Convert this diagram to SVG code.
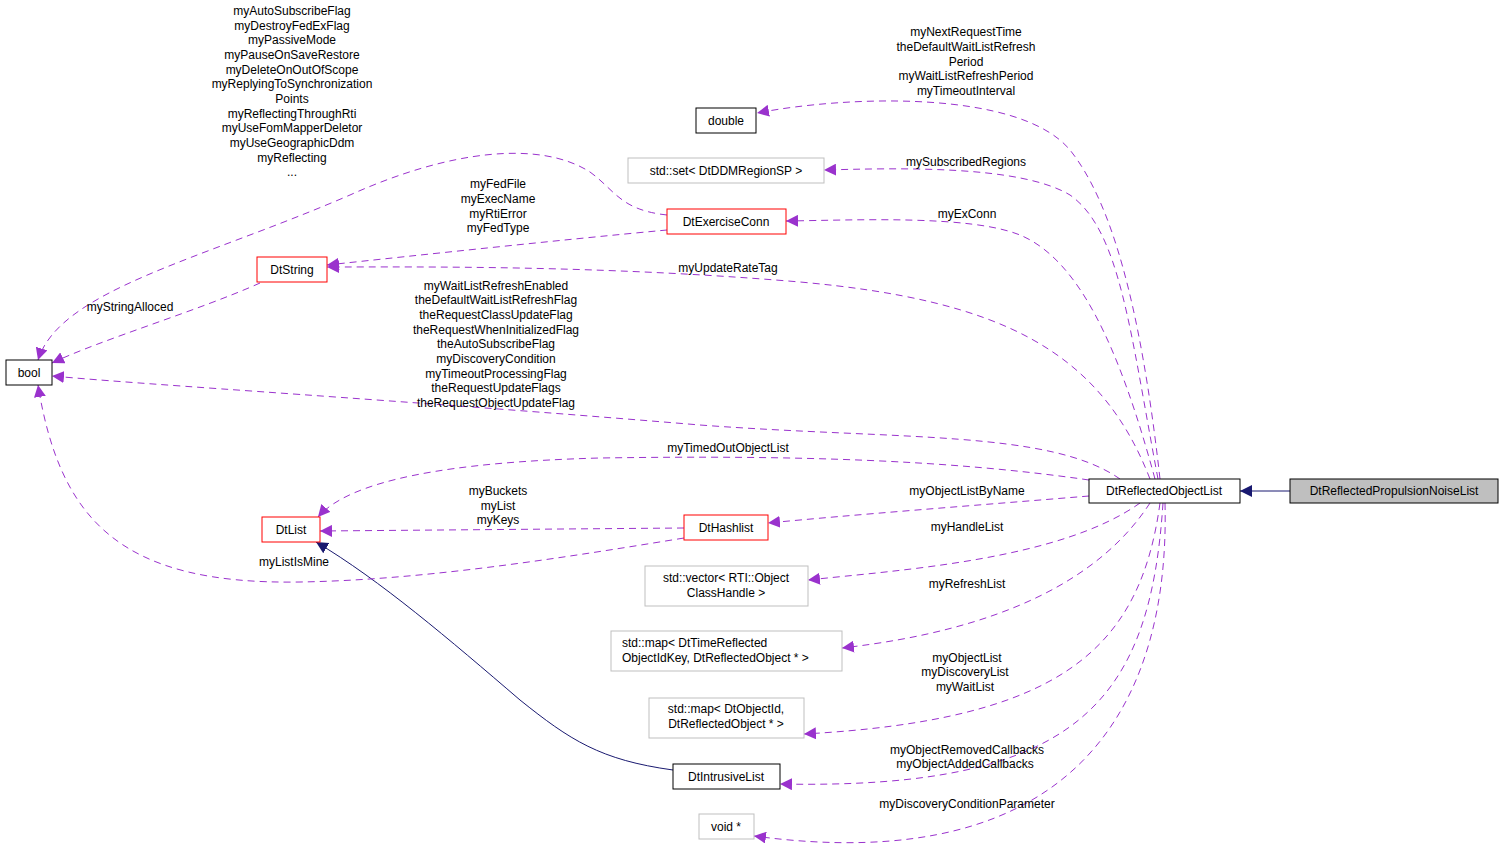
<svg xmlns="http://www.w3.org/2000/svg" width="1504" height="863" viewBox="0 0 1504 863">
<defs>
<style>
text{font-family:"Liberation Sans",Arial,sans-serif;font-size:12px;fill:#000;text-anchor:middle}
.n{fill:#fff;stroke:#000;stroke-width:1}
.r{fill:#fff;stroke:#ff0000;stroke-width:1}
.g{fill:#fff;stroke:#bfbfbf;stroke-width:1}
.d{fill:none;stroke:#9a32cd;stroke-width:1;stroke-dasharray:7,5;marker-end:url(#ap)}
.s{fill:none;stroke:#191970;stroke-width:1;marker-end:url(#an)}
</style>
<marker id="ap" viewBox="0 0 10 10" refX="10" refY="5" markerWidth="12" markerHeight="12" markerUnits="userSpaceOnUse" orient="auto"><path d="M0,0L10,5L0,10z" fill="#9a32cd"/></marker>
<marker id="an" viewBox="0 0 10 10" refX="10" refY="5" markerWidth="12" markerHeight="12" markerUnits="userSpaceOnUse" orient="auto"><path d="M0,0L10,5L0,10z" fill="#191970"/></marker>
</defs>
<rect width="1504" height="863" fill="#fff"/>
<g id="connectors">
<path class="s" d="M1290,491 L1240,491"/>
<path class="s" d="M673,770 C600,760 570,740 520,700 C450,640 380,580 316,542"/>
<path class="d" d="M1160,479 C1140,300 1110,200 1070,150 C1020,90 850,95 757,113"/>
<path class="d" d="M1158,479 C1130,330 1120,230 1070,195 C1020,165 900,168 824,170"/>
<path class="d" d="M1155,479 C1120,350 1080,260 1020,235 C970,215 860,220 786,221"/>
<path class="d" d="M1150,479 C1100,350 1000,300 800,282 C600,265 420,267 327,267"/>
<path class="d" d="M1120,479 C1050,430 900,440 700,425 C400,400 150,385 52,376"/>
<path class="d" d="M1089,480 C950,460 800,455 600,458 C450,462 350,480 318,517"/>
<path class="d" d="M1089,496 C980,505 850,515 768,523"/>
<path class="d" d="M1140,503 C1060,560 900,570 808,580"/>
<path class="d" d="M1150,503 C1100,580 1000,630 842,648"/>
<path class="d" d="M1160,503 C1140,650 1060,720 804,734"/>
<path class="d" d="M1163,503 C1150,700 1080,790 780,784"/>
<path class="d" d="M1165,503 C1170,700 1080,880 754,836"/>
<path class="d" d="M667,215 C620,210 615,190 590,172 C540,140 450,150 350,195 C200,260 60,290 38,360"/>
<path class="d" d="M667,230 C560,240 420,255 327,265"/>
<path class="d" d="M260,283 C200,310 100,340 52,363"/>
<path class="d" d="M684,528 L320,531"/>
<path class="d" d="M684,538 C550,560 420,580 300,582 C120,585 60,520 38,385"/>
</g>
<g id="labels">
<text x="966" y="36">myNextRequestTime</text>
<text x="966" y="51">theDefaultWaitListRefresh</text>
<text x="966" y="66">Period</text>
<text x="966" y="80">myWaitListRefreshPeriod</text>
<text x="966" y="95">myTimeoutInterval</text>
<text x="966" y="166">mySubscribedRegions</text>
<text x="967" y="218">myExConn</text>
<text x="728" y="272">myUpdateRateTag</text>
<text x="292" y="15">myAutoSubscribeFlag</text>
<text x="292" y="30">myDestroyFedExFlag</text>
<text x="292" y="44">myPassiveMode</text>
<text x="292" y="59">myPauseOnSaveRestore</text>
<text x="292" y="74">myDeleteOnOutOfScope</text>
<text x="292" y="88">myReplyingToSynchronization</text>
<text x="292" y="103">Points</text>
<text x="292" y="118">myReflectingThroughRti</text>
<text x="292" y="132">myUseFomMapperDeletor</text>
<text x="292" y="147">myUseGeographicDdm</text>
<text x="292" y="162">myReflecting</text>
<text x="292" y="176">...</text>
<text x="498" y="188">myFedFile</text>
<text x="498" y="203">myExecName</text>
<text x="498" y="218">myRtiError</text>
<text x="498" y="232">myFedType</text>
<text x="130" y="311">myStringAlloced</text>
<text x="496" y="290">myWaitListRefreshEnabled</text>
<text x="496" y="304">theDefaultWaitListRefreshFlag</text>
<text x="496" y="319">theRequestClassUpdateFlag</text>
<text x="496" y="334">theRequestWhenInitializedFlag</text>
<text x="496" y="348">theAutoSubscribeFlag</text>
<text x="496" y="363">myDiscoveryCondition</text>
<text x="496" y="378">myTimeoutProcessingFlag</text>
<text x="496" y="392">theRequestUpdateFlags</text>
<text x="496" y="407">theRequestObjectUpdateFlag</text>
<text x="728" y="452">myTimedOutObjectList</text>
<text x="498" y="495">myBuckets</text>
<text x="498" y="510">myList</text>
<text x="498" y="524">myKeys</text>
<text x="294" y="566">myListIsMine</text>
<text x="967" y="495">myObjectListByName</text>
<text x="967" y="531">myHandleList</text>
<text x="967" y="588">myRefreshList</text>
<text x="967" y="662">myObjectList</text>
<text x="965" y="676">myDiscoveryList</text>
<text x="965" y="691">myWaitList</text>
<text x="967" y="754">myObjectRemovedCallbacks</text>
<text x="965" y="768">myObjectAddedCallbacks</text>
<text x="967" y="808">myDiscoveryConditionParameter</text>
</g>
<g id="n_pnl"><rect x="1290" y="479" width="208" height="24" fill="#bfbfbf" stroke="#000"/><text x="1394" y="495">DtReflectedPropulsionNoiseList</text></g>
<g id="n_rol"><rect class="n" x="1089" y="479" width="151" height="24"/><text x="1164" y="495">DtReflectedObjectList</text></g>
<g id="n_double"><rect class="n" x="696" y="108" width="60" height="25"/><text x="726" y="125">double</text></g>
<g id="n_set"><rect class="g" x="628" y="158" width="196" height="25"/><text x="726" y="175">std::set&lt; DtDDMRegionSP &gt;</text></g>
<g id="n_exconn"><rect class="r" x="667" y="209" width="119" height="25"/><text x="726" y="226">DtExerciseConn</text></g>
<g id="n_dtstring"><rect class="r" x="257" y="257" width="70" height="25"/><text x="292" y="274">DtString</text></g>
<g id="n_bool"><rect class="n" x="6" y="360" width="46" height="25"/><text x="29" y="377">bool</text></g>
<g id="n_dtlist"><rect class="r" x="262" y="517" width="58" height="25"/><text x="291" y="534">DtList</text></g>
<g id="n_hashlist"><rect class="r" x="684" y="515" width="84" height="25"/><text x="726" y="532">DtHashlist</text></g>
<g id="n_vector"><rect class="g" x="645" y="566" width="163" height="40"/><text x="726" y="582">std::vector&lt; RTI::Object</text><text x="726" y="597">ClassHandle &gt;</text></g>
<g id="n_map1"><rect class="g" x="611" y="631" width="231" height="40"/><text x="622" y="647" style="text-anchor:start">std::map&lt; DtTimeReflected</text><text x="622" y="662" style="text-anchor:start">ObjectIdKey, DtReflectedObject * &gt;</text></g>
<g id="n_map2"><rect class="g" x="649" y="698" width="155" height="40"/><text x="726" y="713">std::map&lt; DtObjectId,</text><text x="726" y="728">DtReflectedObject * &gt;</text></g>
<g id="n_intrusive"><rect class="n" x="673" y="764" width="107" height="25"/><text x="726" y="781">DtIntrusiveList</text></g>
<g id="n_void"><rect class="g" x="699" y="814" width="55" height="25"/><text x="726" y="831">void *</text></g>
</svg>
